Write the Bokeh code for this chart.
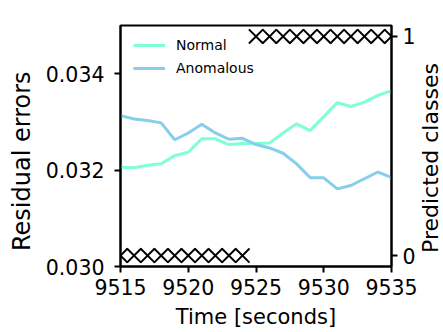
import numpy as np
from bokeh.plotting import figure
from bokeh.models import (Range1d, LinearAxis, FixedTicker, PrintfTickFormatter,
                          Legend, LegendItem, Label)
from bokeh.embed import file_html
from bokeh.resources import INLINE

times = list(range(9515, 9536))
normal = [0.03206, 0.03205, 0.03210, 0.03213, 0.03230, 0.03237, 0.03265, 0.03265,
          0.03253, 0.03255, 0.03255, 0.03256, 0.03277, 0.03296, 0.03282, 0.03311,
          0.03340, 0.03332, 0.03341, 0.03355, 0.03365]
anomalous = [0.03313, 0.03306, 0.03303, 0.03298, 0.03263, 0.03277, 0.03295, 0.03277,
             0.03264, 0.03266, 0.03253, 0.03246, 0.03235, 0.03213, 0.03184, 0.03184,
             0.03161, 0.03168, 0.03182, 0.03196, 0.03185]
classes = [0] * 10 + [1] * 11
x_ticks = [9515, 9520, 9525, 9530, 9535]
y_ticks = [0.030, 0.032, 0.034]
class_ticks = [0, 1]

FONT = "DejaVu Sans"
NB = "\u00a0"

p = figure(width=443, height=332, output_backend="svg", toolbar_location=None,
           x_range=Range1d(9515, 9535), y_range=Range1d(0.030, 0.035),
           min_border_left=120, min_border_right=51, min_border_top=25,
           min_border_bottom=66)
p.extra_y_ranges = {"cls": Range1d(-0.05, 1.05)}
p.grid.visible = False
p.outline_line_color = "black"
p.outline_line_width = 2
p.background_fill_color = "white"
p.border_fill_color = "white"

r_n = p.line(times, normal, line_color="#7fffd4", line_width=3)
r_a = p.line(times, anomalous, line_color="#87ceeb", line_width=3)
p.scatter(times, classes, marker="x", size=20, line_width=2, line_color="black",
          y_range_name="cls")

p.xaxis.ticker = FixedTicker(ticks=x_ticks)
p.yaxis.ticker = FixedTicker(ticks=y_ticks)
p.yaxis.formatter = PrintfTickFormatter(format="%.3f")
p.xaxis.axis_label = "Time [seconds]"
p.yaxis.axis_label = "Residual errors" + NB * 4

right = LinearAxis(y_range_name="cls", ticker=FixedTicker(ticks=class_ticks))
p.add_layout(right, "right")

for ax in p.axis:
    ax.axis_line_width = 2
    ax.axis_line_color = "black"
    ax.major_tick_line_width = 2
    ax.major_tick_out = 6
    ax.major_tick_in = 0
    ax.minor_tick_out = 0
    ax.minor_tick_in = 0
    ax.major_label_text_font = FONT
    ax.major_label_text_font_size = "20.5px"
    ax.major_label_text_color = "black"
    ax.axis_label_text_font = FONT
    ax.axis_label_text_font_size = "21px"
    ax.axis_label_text_font_style = "normal"
    ax.axis_label_text_color = "black"

p.yaxis[0].major_label_standoff = 10
p.yaxis[0].axis_label_text_font_size = "24px"
p.yaxis[0].axis_label_standoff = 7
p.xaxis.major_label_standoff = 6
p.xaxis.axis_label_standoff = 7
right.major_label_standoff = 5

right_label = Label(x=9535, y=0.03225, x_offset=39, text="Predicted classes",
                    angle=np.pi / 2, text_align="center",
                    text_baseline="alphabetic", text_font=FONT,
                    text_font_size="22px", text_color="black")
p.add_layout(right_label, "right")

legend = Legend(items=[LegendItem(label="Normal", renderers=[r_n]),
                       LegendItem(label="Anomalous", renderers=[r_a])],
                location=(13, 188), padding=0, margin=0, spacing=3,
                glyph_width=32, glyph_height=20, label_height=20,
                label_standoff=11, label_text_font=FONT,
                label_text_font_size="14px", label_text_color="black",
                border_line_alpha=0, background_fill_alpha=0)
p.add_layout(legend)

open("out.html", "w").write(file_html(p, INLINE))
